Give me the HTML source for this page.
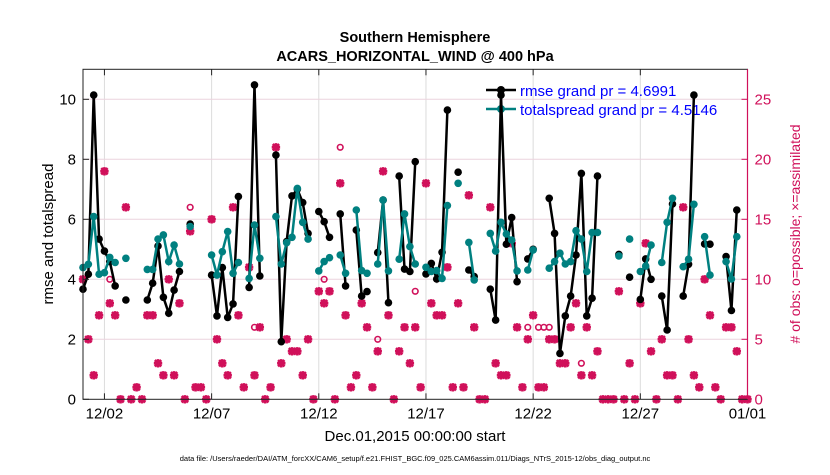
<!DOCTYPE html>
<html><head><meta charset="utf-8"><style>
body{margin:0;background:#fff;width:830px;height:470px;overflow:hidden}
svg text{font-family:"Liberation Sans",sans-serif}
</style></head><body>
<svg id="chart" width="830" height="470">
<text x="415" y="42" text-anchor="middle" font-size="14.5" font-weight="bold">Southern Hemisphere</text>
<text x="415" y="61" text-anchor="middle" font-size="14.5" font-weight="bold">ACARS_HORIZONTAL_WIND @ 400 hPa</text>
<g id="grid"></g>
<g>
<line x1="486" y1="90" x2="516" y2="90" stroke="#000" stroke-width="2.5"/><circle cx="501" cy="90" r="4" fill="#000"/>
<text x="520" y="96" font-size="15" fill="#0000ff">rmse grand pr = 4.6991</text>
<line x1="486" y1="109" x2="516" y2="109" stroke="#008080" stroke-width="2.5"/><circle cx="501" cy="109" r="4" fill="#008080"/>
<text x="520" y="115" font-size="15" fill="#0000ff">totalspread grand pr = 4.5146</text>
</g>
<g id="marks"></g>
<g id="axes"></g>
<text transform="translate(53,234) rotate(-90)" text-anchor="middle" font-size="15">rmse and totalspread</text>
<text transform="translate(800,234) rotate(-90)" text-anchor="middle" font-size="14" fill="#d0105a"># of obs: o=possible; ×=assimilated</text>
<text x="415" y="441" text-anchor="middle" font-size="15">Dec.01,2015 00:00:00 start</text>
<text x="415" y="461" text-anchor="middle" font-size="7.5">data file: /Users/raeder/DAI/ATM_forcXX/CAM6_setup/f.e21.FHIST_BGC.f09_025.CAM6assim.011/Diags_NTrS_2015-12/obs_diag_output.nc</text>
</svg>
<script>
const N=null;
const rmse=[3.67,4.17,10.14,5.34,4.94,4.59,3.78,N,3.31,N,N,N,3.31,3.87,5.11,3.4,2.87,3.64,4.26,N,5.84,N,N,N,4.14,2.78,4.39,2.73,3.18,6.76,N,3.73,10.48,4.11,N,N,8.14,1.92,5.26,6.78,7.0,6.56,5.53,N,6.26,5.92,5.4,N,6.18,3.78,N,5.64,3.44,3.59,N,4.89,6.64,3.22,N,7.44,4.34,4.26,7.92,N,4.18,4.53,4.01,4.9,9.64,N,7.57,N,4.31,4.09,N,N,3.67,2.64,10.14,5.17,6.06,3.92,N,4.68,5.0,N,N,6.7,5.53,1.53,2.78,3.44,4.81,7.53,2.78,3.37,7.44,N,N,N,4.83,N,4.07,N,3.33,4.68,4.0,N,3.44,2.31,6.51,N,3.44,4.5,10.14,N,5.18,5.17,N,N,4.76,2.96,6.31,N,N];
const spread=[4.39,4.5,6.09,4.17,4.22,4.73,4.56,N,4.7,N,N,N,4.33,4.33,5.34,5.48,4.59,5.14,4.51,N,5.76,N,N,N,4.81,4.14,4.92,5.59,4.2,4.56,N,4.03,5.81,4.7,N,N,6.09,4.51,5.22,5.4,7.03,5.9,5.34,N,4.28,4.59,4.72,N,4.81,4.2,N,6.31,4.29,4.2,N,4.51,6.64,4.28,N,4.67,6.18,5.09,4.51,N,4.4,4.26,4.29,4.03,6.46,N,7.2,N,5.23,3.98,N,N,5.53,4.94,5.9,5.51,5.31,4.28,N,4.31,4.98,N,N,4.37,4.59,4.87,4.51,4.59,5.62,5.34,4.26,5.56,5.56,N,N,N,4.78,N,5.34,N,4.26,4.44,5.14,N,4.56,5.9,6.7,N,4.42,4.67,6.5,N,5.42,4.14,N,N,4.59,4.01,5.42,N,N];
const nused=[10,5,2,7,19,8,7,0,16,0,1,0,7,7,3,2,10,2,8,0,14,1,1,0,15,5,3,2,16,7,1,11,2,6,0,1,21,3,5,4,4,2,5,0,9,8,9,0,18,7,1,2,8,6,1,4,19,7,0,4,6,3,6,1,18,8,7,7,11,1,8,1,17,6,0,0,16,3,2,2,13,6,1,5,7,1,1,5,5,3,3,6,8,2,6,2,4,0,0,0,9,0,3,0,8,13,4,0,5,2,2,0,16,5,2,1,10,7,1,0,6,6,4,0,0];
const nposs=[11,5,2,7,19,10,7,0,16,0,1,0,7,7,3,2,10,2,8,0,16,1,1,0,15,5,3,2,16,7,1,11,6,6,0,1,21,3,5,4,4,2,5,0,9,10,9,0,21,7,1,2,8,6,1,5,19,7,0,4,6,3,9,1,18,8,7,7,11,1,8,1,17,6,0,0,16,3,2,2,13,6,1,6,7,6,6,6,5,3,3,6,8,3,6,2,4,0,0,0,9,0,3,0,8,13,4,0,5,2,2,0,16,5,2,1,10,7,1,0,6,6,4,0,0];
const xTicks=["12/02","12/07","12/12","12/17","12/22","12/27","01/01"];
const xTickDays=[1,6,11,16,21,26,31];
const yTicks=[0,2,4,6,8,10];
const y2Ticks=[0,5,10,15,20,25];
const X0=83,X1=747.5,Y0=399.3,Y1=69.3,DAYS=31,YMAX=11,Y2MAX=27.5;
const xs=d=>X0+(d/DAYS)*(X1-X0);
const xi=i=>xs(i*0.25);
const ys=v=>Y0-(v/YMAX)*(Y0-Y1);
const ys2=v=>Y0-(v/Y2MAX)*(Y0-Y1);
const NS="http://www.w3.org/2000/svg";
function mk(t,a,p){const e=document.createElementNS(NS,t);for(const k in a)e.setAttribute(k,a[k]);p.appendChild(e);return e;}
const grid=document.getElementById('grid'),marks=document.getElementById('marks'),axes=document.getElementById('axes');
xTickDays.forEach((d,k)=>{const l=mk('line',{x1:xs(d),x2:xs(d),y1:Y1,y2:Y0,stroke:'#dcdcdc','stroke-width':1},grid);


const t=mk('text',{x:xs(d),y:Y0+19,'text-anchor':'middle','font-size':15},axes);t.textContent=xTicks[k];


mk('line',{x1:xs(d),x2:xs(d),y1:Y0,y2:Y0-6,stroke:'#222'},axes);mk('line',{x1:xs(d),x2:xs(d),y1:Y1,y2:Y1+6,stroke:'#222'},axes);});
yTicks.forEach(v=>{if(v>0){const l=mk('line',{x1:X0,x2:X1,y1:ys(v),y2:ys(v),stroke:'#ecd3dd','stroke-width':1},grid);

}
const t=mk('text',{x:X0-7,y:ys(v)+5,'text-anchor':'end','font-size':15},axes);t.textContent=v;


mk('line',{x1:X0,x2:X0+6,y1:ys(v),y2:ys(v),stroke:'#222'},axes);});
y2Ticks.forEach(v=>{const t=mk('text',{x:X1+7,y:ys2(v)+5,'font-size':15,fill:'#d0105a'},axes);t.textContent=v;


mk('line',{x1:X1-6,x2:X1,y1:ys2(v),y2:ys2(v),stroke:'#d0105a'},axes);});
mk('rect',{x:X0,y:Y1,width:X1-X0,height:Y0-Y1,fill:'none',stroke:'#222','stroke-width':1},axes);
mk('line',{x1:X1,x2:X1,y1:Y1,y2:Y0,stroke:'#d0105a','stroke-width':1.2},axes);
nposs.forEach((v,i)=>{if(v!==nused[i]){const c=mk('circle',{cx:xi(i),cy:ys2(v),r:2.8,fill:'none',stroke:'#d0105a','stroke-width':1.6},marks);

}});
nused.forEach((v,i)=>{const x=xi(i),y=ys2(v),r=4.2;
const p=mk('path',{d:`M${x-r},${y}H${x+r}M${x},${y-r}V${y+r}M${x-3.2},${y-3.2}L${x+3.2},${y+3.2}M${x-3.2},${y+3.2}L${x+3.2},${y-3.2}`,stroke:'#d0105a','stroke-width':2.6},marks);

});
function series(arr,col,name){let segs=[],cur=[];arr.forEach((v,i)=>{if(v===null){if(cur.length)segs.push(cur);cur=[];}else cur.push([xi(i),ys(v)]);});if(cur.length)segs.push(cur);
segs.forEach(s=>{if(s.length>1){const l=mk('polyline',{points:s.map(p=>p.join(',')).join(' '),fill:'none',stroke:col,'stroke-width':2.5},marks);

}});
arr.forEach((v,i)=>{if(v!==null){const c=mk('circle',{cx:xi(i),cy:ys(v),r:3.8,fill:col},marks);

}});}
series(rmse,'#000','rmse');
series(spread,'#008080','totalspread');
</script>
</body></html>
